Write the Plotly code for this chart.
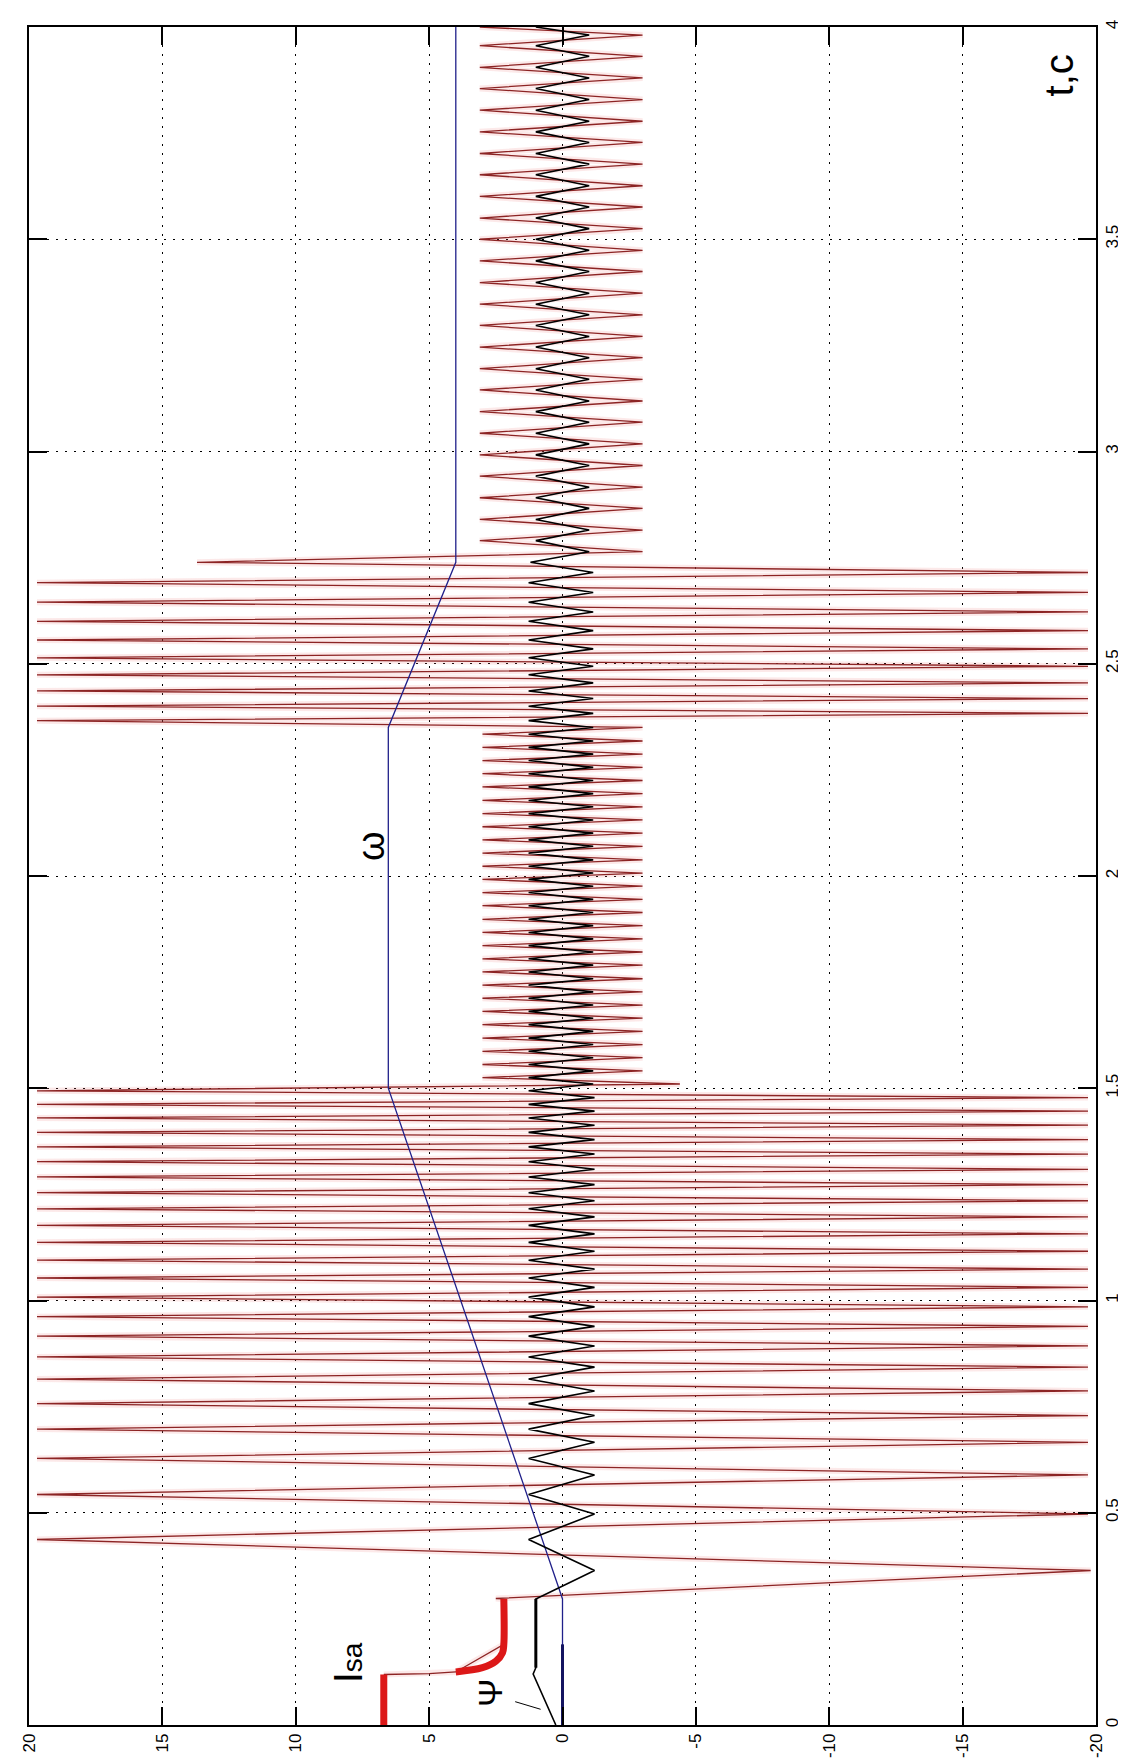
import plotly.graph_objects as go

# ---------------- data ----------------
# value axis is horizontal (20 .. -20), time t (s) is vertical (0 .. 4)

# start-up portion (before oscillation)
isa_thick1_t = [0.0, 0.119]
isa_thick1_v = [6.7, 6.7]
isa_link_t = [0.119, 0.121, 0.125]
isa_link_v = [6.7, 5.0, 4.0]
isa_thick2_t = [0.125, 0.135, 0.150, 0.170, 0.190, 0.297]
isa_thick2_v = [4.0, 3.0, 2.5, 2.25, 2.2, 2.2]

psi_start_t = [0.0, 0.120, 0.135, 0.297]
psi_start_v = [0.25, 1.10, 1.00, 1.00]
psi_thick_t = [0.135, 0.297]
psi_thick_v = [1.00, 1.00]

omega_t = [0.0, 0.190, 0.297, 1.500, 2.350, 2.739, 4.000]
omega_v = [0.0, 0.0, 0.0, 6.53, 6.53, 4.0, 4.0]
omega_thick_t = [0.0, 0.190]
omega_thick_v = [0.0, 0.0]

# extremum times of the oscillating part
t_seg1 = [0.364, 0.437, 0.497, 0.543, 0.589, 0.628, 0.666, 0.697, 0.729, 0.757,
          0.787, 0.815, 0.843, 0.867, 0.893, 0.916, 0.939, 0.962, 0.985, 1.008,
          1.031, 1.053, 1.074, 1.095, 1.116, 1.137, 1.157, 1.177, 1.197, 1.216,
          1.235, 1.254, 1.273, 1.291, 1.309, 1.327, 1.345, 1.362, 1.379, 1.396,
          1.413, 1.430, 1.446, 1.462, 1.478, 1.494]
t_seg2 = [1.510, 1.525, 1.541, 1.556, 1.572, 1.587, 1.603, 1.618, 1.634, 1.650,
          1.665, 1.681, 1.696, 1.712, 1.727, 1.743, 1.758, 1.774, 1.790, 1.805,
          1.821, 1.836, 1.852, 1.867, 1.883, 1.898, 1.914, 1.930, 1.945, 1.961,
          1.976, 1.992, 2.007, 2.023, 2.038, 2.054, 2.070, 2.085, 2.101, 2.116,
          2.132, 2.147, 2.163, 2.178, 2.194, 2.210, 2.225, 2.241, 2.256, 2.272,
          2.287, 2.303, 2.318, 2.334, 2.350]
t_seg3 = [2.366, 2.383, 2.400, 2.418, 2.436, 2.455, 2.474, 2.494, 2.514, 2.535,
          2.556, 2.578, 2.600, 2.622, 2.645, 2.668, 2.691, 2.715, 2.739]
t_seg4 = [2.764, 2.790, 2.815, 2.840, 2.866, 2.891, 2.916, 2.942, 2.967, 2.992,
          3.018, 3.043, 3.069, 3.094, 3.119, 3.145, 3.170, 3.195, 3.221, 3.246,
          3.271, 3.297, 3.322, 3.347, 3.373, 3.398, 3.424, 3.449, 3.474, 3.500,
          3.525, 3.550, 3.576, 3.601, 3.626, 3.652, 3.677, 3.702, 3.728, 3.753,
          3.778, 3.804, 3.829, 3.855, 3.880, 3.905, 3.931, 3.956, 3.981, 4.000]

# Isa (red) at those extrema
isa_seg1 = [-19.8, 19.7, -19.7, 19.7, -19.7, 19.7, -19.7, 19.7, -19.7, 19.7,
            -19.7, 19.7, -19.7, 19.7, -19.7, 19.7, -19.7, 19.7, -19.7, 19.7,
            -19.7, 19.7, -19.7, 19.7, -19.7, 19.7, -19.7, 19.7, -19.7, 19.7,
            -19.7, 19.7, -19.7, 19.7, -19.7, 19.7, -19.7, 19.7, -19.7, 19.7,
            -19.7, 19.7, -19.7, 19.7, -19.7, 19.7]
isa_seg2 = [-4.4, 3.0, -3.0, 3.0, -3.0, 3.0, -3.0, 3.0, -3.0, 3.0,
            -3.0, 3.0, -3.0, 3.0, -3.0, 3.0, -3.0, 3.0, -3.0, 3.0,
            -3.0, 3.0, -3.0, 3.0, -3.0, 3.0, -3.0, 3.0, -3.0, 3.0,
            -3.0, 3.0, -3.0, 3.0, -3.0, 3.0, -3.0, 3.0, -3.0, 3.0,
            -3.0, 3.0, -3.0, 3.0, -3.0, 3.0, -3.0, 3.0, -3.0, 3.0,
            -3.0, 3.0, -3.0, 3.0, -3.0]
isa_seg3 = [19.7, -19.7, 19.7, -19.7, 19.7, -19.7, 19.7, -19.7, 19.7, -19.7,
            19.7, -19.7, 19.7, -19.7, 19.7, -19.7, 19.7, -19.7, 13.7]
isa_seg4 = [-3.0, 3.1, -3.0, 3.1, -3.0, 3.1, -3.0, 3.1, -3.0, 3.1,
            -3.0, 3.1, -3.0, 3.1, -3.0, 3.1, -3.0, 3.1, -3.0, 3.1,
            -3.0, 3.1, -3.0, 3.1, -3.0, 3.1, -3.0, 3.1, -3.0, 3.1,
            -3.0, 3.1, -3.0, 3.1, -3.0, 3.1, -3.0, 3.1, -3.0, 3.1,
            -3.0, 3.1, -3.0, 3.1, -3.0, 3.1, -3.0, 3.1, -3.0, 3.1]

# Psi (black) at those extrema
psi_seg1 = [-1.20, 1.27, -1.20, 1.27, -1.20, 1.27, -1.20, 1.27, -1.20, 1.27,
            -1.20, 1.27, -1.20, 1.27, -1.20, 1.27, -1.20, 1.27, -1.20, 1.27,
            -1.20, 1.27, -1.20, 1.27, -1.20, 1.27, -1.20, 1.27, -1.20, 1.27,
            -1.20, 1.27, -1.20, 1.27, -1.20, 1.27, -1.20, 1.27, -1.20, 1.27,
            -1.20, 1.27, -1.20, 1.27, -1.20, 1.27]
psi_seg2 = [-1.15, 1.27, -1.15, 1.27, -1.15, 1.27, -1.15, 1.27, -1.15, 1.27,
            -1.15, 1.27, -1.15, 1.27, -1.15, 1.27, -1.15, 1.27, -1.15, 1.27,
            -1.15, 1.27, -1.15, 1.27, -1.15, 1.27, -1.15, 1.27, -1.15, 1.27,
            -1.15, 1.27, -1.15, 1.27, -1.15, 1.27, -1.15, 1.27, -1.15, 1.27,
            -1.15, 1.27, -1.15, 1.27, -1.15, 1.27, -1.15, 1.27, -1.15, 1.27,
            -1.15, 1.27, -1.15, 1.27, -1.15]
psi_seg3 = [1.27, -1.15, 1.27, -1.15, 1.27, -1.15, 1.27, -1.15, 1.27, -1.15,
            1.27, -1.15, 1.27, -1.15, 1.27, -1.15, 1.27, -1.15, 1.20]
psi_seg4 = [-1.0, 1.0, -1.0, 1.0, -1.0, 1.0, -1.0, 1.0, -1.0, 1.0,
            -1.0, 1.0, -1.0, 1.0, -1.0, 1.0, -1.0, 1.0, -1.0, 1.0,
            -1.0, 1.0, -1.0, 1.0, -1.0, 1.0, -1.0, 1.0, -1.0, 1.0,
            -1.0, 1.0, -1.0, 1.0, -1.0, 1.0, -1.0, 1.0, -1.0, 1.0,
            -1.0, 1.0, -1.0, 1.0, -1.0, 1.0, -1.0, 1.0, -1.0, 1.0]

value_ticks = [20, 15, 10, 5, 0, -5, -10, -15, -20]
value_labels = ["20", "15", "10", "5", "0", "-5", "-10", "-15", "-20"]
time_ticks = [0, 0.5, 1, 1.5, 2, 2.5, 3, 3.5, 4]
time_labels = ["0", "0.5", "1", "1.5", "2", "2.5", "3", "3.5", "4"]

# ---------------- assemble ----------------
t_osc = t_seg1 + t_seg2 + t_seg3 + t_seg4
isa_t = isa_link_t + [0.190, 0.297, 0.298] + t_osc
isa_v = isa_link_v + [2.2, 2.2, 2.5] + isa_seg1 + isa_seg2 + isa_seg3 + isa_seg4
psi_t = psi_start_t + t_osc
psi_v = psi_start_v + psi_seg1 + psi_seg2 + psi_seg3 + psi_seg4

RED = "#8c2424"
RED_THICK = "#dc1818"
BLUE = "#20208a"
FONT = "Liberation Sans, Arial, sans-serif"

fig = go.Figure()
# faint halo around the red current trace
fig.add_trace(go.Scatter(x=isa_v, y=isa_t, mode="lines",
                         line=dict(color="rgba(235,120,120,0.16)", width=6)))
fig.add_trace(go.Scatter(x=isa_v, y=isa_t, mode="lines",
                         line=dict(color=RED, width=1.3)))
fig.add_trace(go.Scatter(x=isa_thick1_v, y=isa_thick1_t, mode="lines",
                         line=dict(color=RED_THICK, width=7)))
fig.add_trace(go.Scatter(x=isa_thick2_v, y=isa_thick2_t, mode="lines",
                         line=dict(color=RED_THICK, width=7, shape="spline")))
fig.add_trace(go.Scatter(x=omega_v, y=omega_t, mode="lines",
                         line=dict(color=BLUE, width=1.3)))
fig.add_trace(go.Scatter(x=omega_thick_v, y=omega_thick_t, mode="lines",
                         line=dict(color="#141460", width=3)))
fig.add_trace(go.Scatter(x=psi_v, y=psi_t, mode="lines",
                         line=dict(color="black", width=1.6)))
fig.add_trace(go.Scatter(x=psi_thick_v, y=psi_thick_t, mode="lines",
                         line=dict(color="black", width=3)))

axis_common = dict(
    ticks="inside", ticklen=18, tickwidth=1.5, tickcolor="black",
    showline=True, linecolor="black", linewidth=1.5, mirror="allticks",
    showgrid=True, gridcolor="black", gridwidth=1.3, griddash="2px,7px",
    zeroline=False, tickangle=-90,
    tickfont=dict(family=FONT, size=17, color="black"),
)
fig.update_xaxes(range=[20, -20], tickmode="array", tickvals=value_ticks,
                 ticktext=value_labels, **axis_common)
fig.update_yaxes(range=[0, 4], side="right", tickmode="array",
                 tickvals=time_ticks, ticktext=time_labels, **axis_common)

fig.add_annotation(x=-18.6, y=3.885, text="t,c", showarrow=False, textangle=-90,
                   font=dict(family=FONT, size=40, color="black"))
fig.add_annotation(x=7.15, y=2.07, text="ω", showarrow=False, textangle=-90,
                   font=dict(family=FONT, size=38, color="black"))
fig.add_annotation(x=8.05, y=0.147, showarrow=False, textangle=-90,
                   text="<span style='font-size:40px'>I</span><span style='font-size:28px'>sa</span>",
                   font=dict(family=FONT, size=28, color="black"))
fig.add_annotation(x=2.72, y=0.075, text="Ψ", showarrow=False, textangle=-90,
                   font=dict(family=FONT, size=34, color="black"))
fig.add_annotation(x=0.82, y=0.037, ax=1.83, ay=0.056, axref="x", ayref="y",
                   text="", showarrow=True, arrowhead=0, arrowwidth=1,
                   arrowcolor="black")

fig.update_layout(
    width=1126, height=1762,
    margin=dict(l=20, r=32, t=15, b=43),
    paper_bgcolor="white", plot_bgcolor="white",
    showlegend=False,
    font=dict(family=FONT, color="black"),
)

fig.write_html("out.html")
